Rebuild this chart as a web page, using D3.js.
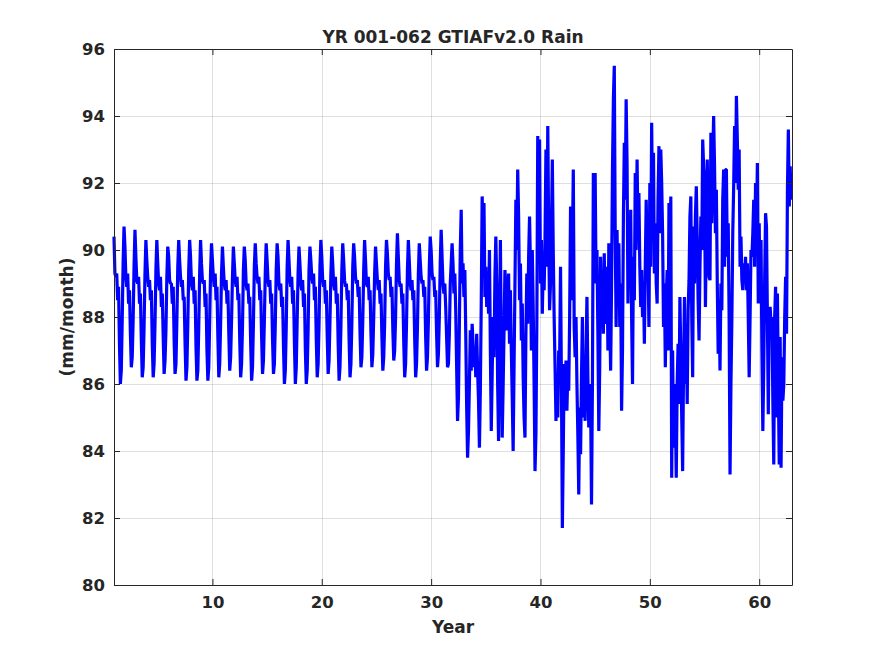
<!DOCTYPE html>
<html>
<head>
<meta charset="utf-8">
<script src="https://cdn.jsdelivr.net/npm/d3@7"></script>
<style>
  body { margin: 0; background: #fff; }
  text { font-family: "DejaVu Sans", sans-serif; font-weight: bold; fill: #262626; }
</style>
</head>
<body>
<svg id="chart" width="875" height="656"></svg>
<script>
// monthly rain (mm/month), one row per model year, Jan..Dec
const rain01to10 = [
  [90.4, 89.3, 89.2, 89.3, 88.5, 88.9, 87.2, 86.0, 86.4, 87.9, 89.6, 90.7],
  [90.1, 89.2, 88.9, 89.3, 88.4, 88.8, 87.5, 86.5, 86.8, 87.9, 89.5, 90.6],
  [89.8, 89.1, 89.0, 89.2, 88.4, 88.7, 87.3, 86.2, 86.5, 87.7, 89.3, 90.3],
  [89.7, 89.2, 88.9, 89.1, 88.5, 88.8, 87.2, 86.2, 86.6, 87.8, 89.4, 90.3],
  [89.6, 89.0, 88.8, 89.2, 88.3, 88.7, 87.4, 86.3, 86.7, 87.6, 89.2, 90.1],
  [89.8, 89.1, 89.0, 89.0, 88.4, 88.9, 87.3, 86.3, 86.6, 87.9, 89.5, 90.3],
  [89.7, 89.2, 88.9, 89.1, 88.5, 88.6, 87.2, 86.1, 86.5, 87.8, 89.4, 90.3],
  [89.8, 89.0, 88.8, 89.2, 88.4, 88.8, 87.1, 86.1, 86.4, 87.7, 89.3, 90.3],
  [89.6, 89.1, 89.0, 89.1, 88.3, 88.7, 87.0, 86.1, 86.5, 87.9, 89.4, 90.2],
  [89.7, 89.2, 88.9, 89.3, 88.5, 88.9, 87.4, 86.2, 86.6, 87.8, 89.3, 90.1]
];
const rain11to20 = [
  [89.5, 89.0, 88.8, 89.1, 88.4, 88.8, 87.5, 86.4, 86.8, 87.9, 89.2, 90.1],
  [89.6, 89.1, 88.9, 89.2, 88.5, 88.7, 87.3, 86.2, 86.6, 87.7, 89.4, 90.1],
  [89.7, 89.0, 88.8, 89.0, 88.4, 88.6, 87.2, 86.1, 86.5, 87.8, 89.5, 90.2],
  [89.6, 89.2, 89.0, 89.2, 88.5, 88.8, 87.4, 86.3, 86.7, 87.9, 89.3, 90.2],
  [89.7, 89.1, 88.9, 89.1, 88.4, 88.7, 87.3, 86.3, 86.6, 87.8, 89.4, 90.2],
  [89.8, 89.0, 88.8, 89.0, 88.3, 88.6, 87.1, 86.0, 86.4, 87.7, 89.5, 90.3],
  [89.7, 89.1, 88.9, 89.2, 88.4, 88.8, 87.2, 86.0, 86.5, 87.9, 89.3, 90.1],
  [89.6, 89.0, 88.8, 89.1, 88.3, 88.7, 87.0, 86.0, 86.4, 87.6, 89.4, 90.1],
  [89.7, 89.2, 89.0, 89.3, 88.5, 88.9, 87.3, 86.2, 86.6, 87.8, 89.5, 90.3],
  [89.8, 89.1, 88.9, 89.1, 88.4, 88.8, 87.4, 86.3, 86.7, 87.9, 89.3, 90.1]
];
const rain21to30 = [
  [89.6, 89.0, 88.8, 89.2, 88.4, 88.7, 87.2, 86.1, 86.5, 87.7, 89.4, 90.2],
  [89.7, 89.1, 88.9, 89.0, 88.5, 88.8, 87.3, 86.2, 86.6, 87.8, 89.5, 90.2],
  [89.8, 89.2, 89.0, 89.1, 88.6, 88.9, 87.5, 86.5, 86.8, 87.9, 89.4, 90.3],
  [89.7, 89.0, 88.9, 89.2, 88.5, 88.8, 87.5, 86.5, 86.9, 88.0, 89.3, 90.1],
  [89.6, 89.1, 88.8, 89.1, 88.4, 88.7, 87.4, 86.4, 86.8, 87.8, 89.5, 90.3],
  [89.9, 89.3, 89.1, 89.2, 88.6, 88.9, 87.6, 86.7, 87.0, 88.0, 89.6, 90.5],
  [89.8, 89.1, 88.9, 89.0, 88.4, 88.7, 87.2, 86.2, 86.6, 87.8, 89.4, 90.3],
  [89.7, 89.0, 88.8, 89.1, 88.5, 88.8, 87.3, 86.2, 86.6, 87.7, 89.3, 90.2],
  [89.7, 89.2, 89.0, 89.1, 88.6, 88.9, 87.4, 86.4, 86.8, 87.9, 89.5, 90.4],
  [90.0, 89.3, 89.1, 89.2, 88.6, 88.8, 87.5, 86.5, 86.9, 88.0, 89.6, 90.6]
];
const rain31to40 = [
  [89.8, 89.0, 88.7, 89.0, 88.3, 87.4, 86.5, 86.6, 87.5, 89.0, 89.6, 90.2],
  [89.6, 88.7, 89.3, 88.2, 86.5, 84.9, 85.6, 87.8, 90.0, 91.2, 89.0, 89.6],
  [88.6, 89.4, 87.5, 85.3, 83.8, 84.6, 86.0, 87.6, 86.4, 87.8, 87.2, 86.5],
  [87.0, 86.2, 87.5, 86.4, 85.5, 84.1, 85.8, 88.4, 91.6, 90.5, 91.4, 88.6],
  [89.5, 88.3, 89.2, 88.1, 90.0, 87.0, 84.6, 86.3, 88.0, 86.8, 89.2, 90.4],
  [89.0, 86.0, 84.3, 87.5, 90.3, 87.2, 84.4, 85.9, 87.6, 89.4, 88.8, 87.6],
  [88.6, 89.3, 87.2, 88.8, 87.0, 85.6, 84.0, 86.5, 89.0, 91.5, 90.0, 92.4],
  [91.0, 88.5, 89.6, 87.3, 88.4, 86.2, 85.0, 84.4, 87.5, 89.3, 87.8, 89.8],
  [91.0, 89.5, 87.0, 90.0, 88.3, 86.0, 83.4, 84.5, 87.8, 93.4, 91.0, 93.3],
  [89.0, 90.3, 88.1, 89.5, 88.8, 90.4, 93.0, 89.5, 93.7, 90.5, 88.2, 89.0]
];
const rain41to50 = [
  [90.5, 92.7, 90.0, 88.0, 86.5, 84.9, 86.2, 85.0, 87.0, 86.6, 89.5, 86.0],
  [81.7, 84.0, 86.6, 85.5, 86.7, 85.2, 86.4, 85.8, 88.0, 91.3, 88.5, 90.0],
  [92.4, 87.7, 86.8, 88.0, 86.0, 84.5, 82.7, 85.3, 83.9, 86.2, 88.0, 85.0],
  [86.5, 84.9, 87.0, 88.6, 86.2, 84.7, 86.0, 85.5, 82.4, 86.0, 92.3, 89.5],
  [92.3, 89.0, 90.0, 87.5, 84.6, 86.5, 89.8, 88.0, 89.4, 87.5, 89.9, 87.8],
  [88.0, 89.5, 87.0, 90.2, 88.0, 86.4, 89.0, 92.4, 94.5, 95.5, 90.5, 87.7],
  [90.6, 88.5, 90.2, 87.7, 89.0, 85.2, 87.0, 91.0, 93.2, 91.5, 94.5, 92.6],
  [88.4, 90.6, 89.0, 91.2, 88.0, 86.0, 89.8, 88.5, 92.3, 90.0, 92.7, 90.5],
  [91.7, 89.5, 88.3, 89.4, 88.0, 89.0, 87.2, 89.5, 91.5, 90.0, 89.8, 87.7],
  [92.0, 89.5, 93.8, 91.0, 92.9, 89.3, 90.8, 89.0, 88.4, 91.5, 93.1, 90.5]
];
const rain51to62 = [
  [93.0, 92.0, 90.5, 87.7, 89.0, 86.5, 88.5, 89.4, 87.0, 91.4, 89.0, 91.6],
  [83.2, 87.0, 84.1, 86.0, 85.2, 83.2, 86.0, 87.2, 85.4, 88.6, 86.8, 85.0],
  [83.4, 86.5, 88.6, 86.0, 87.5, 85.4, 88.2, 89.1, 91.0, 91.6, 88.0, 86.2],
  [90.7, 89.0, 91.0, 91.9, 90.3, 88.5, 87.3, 89.5, 91.0, 90.0, 93.3, 92.5],
  [92.0, 88.3, 90.5, 92.7, 91.0, 89.2, 89.1, 93.5, 90.8, 92.6, 94.0, 92.5],
  [90.5, 91.8, 89.0, 86.9, 88.5, 86.4, 89.0, 88.2, 91.5, 92.4, 89.5, 92.4],
  [92.4, 89.8, 90.8, 88.0, 83.3, 86.0, 87.9, 90.5, 91.9, 93.7, 92.0, 94.6],
  [93.3, 91.8, 93.0, 89.5, 90.4, 89.1, 88.8, 89.6, 89.1, 89.8, 88.8, 89.6],
  [88.0, 86.2, 88.0, 90.0, 89.8, 90.5, 91.5, 89.5, 92.0, 90.5, 92.6, 88.4],
  [90.8, 88.4, 90.3, 87.0, 84.6, 86.5, 89.1, 91.1, 90.7, 88.0, 85.1, 88.2],
  [88.3, 87.8, 88.0, 85.5, 83.6, 88.0, 88.9, 85.0, 88.7, 86.0, 83.6, 87.4],
  [83.5, 86.8, 85.5, 86.0, 88.0, 89.2, 87.5, 91.8, 93.6, 91.3, 92.5, 91.5]
];

const firstYear = 1;
const xTicks = [10, 20, 30, 40, 50, 60];
const yTicks = [80, 82, 84, 86, 88, 90, 92, 94, 96];
const chartTitle = "YR 001-062 GTIAFv2.0 Rain";
const xTitle = "Year";
const yTitle = "(mm/month)";

const rain = [].concat(rain01to10, rain11to20, rain21to30, rain31to40, rain41to50, rain51to62);
const series = rain.flatMap((months, i) =>
  months.map((v, m) => ({ t: firstYear + i + m / 12, v })));

const plotL = 114, plotR = 792, plotT = 49, plotB = 585;
const ink = "#262626";

const svg = d3.select("#chart");
svg.append("rect").attr("width", 875).attr("height", 656).attr("fill", "#fff");

const x = d3.scaleLinear().domain([1, 63]).range([plotL, plotR]);
const y = d3.scaleLinear().domain([80, 96]).range([plotB, plotT]);

// grid
const grid = svg.append("g").attr("stroke", ink).attr("stroke-opacity", 0.15).attr("stroke-width", 1);
grid.selectAll(".gx").data(xTicks).join("line")
  .attr("x1", d => Math.round(x(d)) + 0.5).attr("x2", d => Math.round(x(d)) + 0.5)
  .attr("y1", plotT).attr("y2", plotB);
grid.selectAll(".gy").data(yTicks).join("line")
  .attr("y1", d => Math.round(y(d)) + 0.5).attr("y2", d => Math.round(y(d)) + 0.5)
  .attr("x1", plotL).attr("x2", plotR);

// data
const line = d3.line().x(d => x(d.t)).y(d => y(d.v));
svg.append("path")
  .datum(series)
  .attr("d", line)
  .attr("fill", "none")
  .attr("stroke", "#0000ff")
  .attr("stroke-width", 3.2)
  .attr("stroke-linejoin", "bevel");

// axes, ticks pointing inward
function styleAxis(g) {
  g.selectAll("path").attr("stroke", ink).attr("stroke-width", 1);
  g.selectAll("line").attr("stroke", ink);
  g.selectAll("text").attr("fill", ink).attr("font-family", null).attr("font-size", null)
    .style("font-size", "16.5px").style("font-weight", "bold");
}
svg.append("g").attr("transform", `translate(0,${plotB})`)
  .call(d3.axisBottom(x).tickValues(xTicks).tickSize(-6).tickSizeOuter(0).tickPadding(11))
  .call(styleAxis);
svg.append("g").attr("transform", `translate(0,${plotT})`)
  .call(d3.axisTop(x).tickValues(xTicks).tickSize(-6).tickSizeOuter(0).tickFormat(""))
  .call(styleAxis);
svg.append("g").attr("transform", `translate(${plotL},0)`)
  .call(d3.axisLeft(y).tickValues(yTicks).tickSize(-6).tickSizeOuter(0).tickPadding(9))
  .call(styleAxis);
svg.append("g").attr("transform", `translate(${plotR},0)`)
  .call(d3.axisRight(y).tickValues(yTicks).tickSize(-6).tickSizeOuter(0).tickFormat(""))
  .call(styleAxis);

// titles
svg.append("text").attr("x", (plotL + plotR) / 2).attr("y", 42.5)
  .attr("text-anchor", "middle").style("font-size", "17px").text(chartTitle);
svg.append("text").attr("x", (plotL + plotR) / 2).attr("y", 633)
  .attr("text-anchor", "middle").style("font-size", "17px").text(xTitle);
svg.append("text").attr("transform", `translate(72.5,${(plotT + plotB) / 2}) rotate(-90)`)
  .attr("text-anchor", "middle").style("font-size", "17px").text(yTitle);
</script>
</body>
</html>
